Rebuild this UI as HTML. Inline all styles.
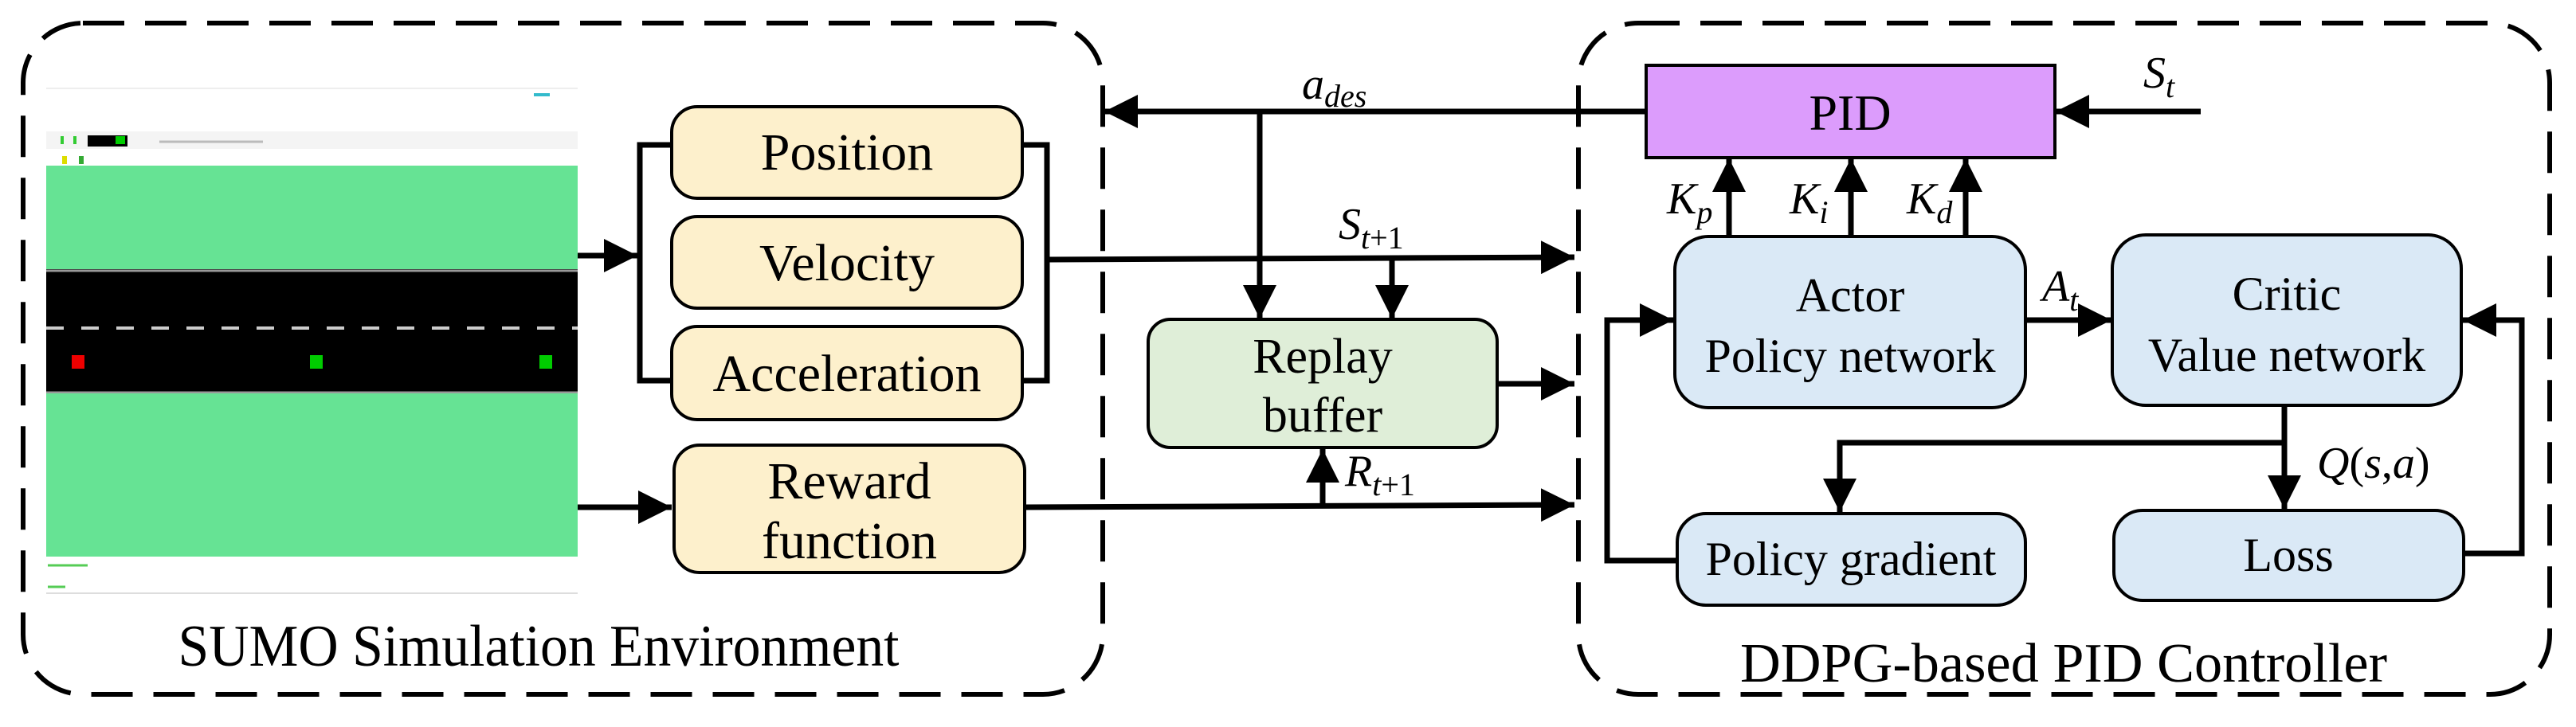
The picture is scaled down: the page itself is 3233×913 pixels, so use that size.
<!DOCTYPE html>
<html><head><meta charset="utf-8"><style>
html,body{margin:0;padding:0;background:#fff}
svg{display:block}
svg text, svg tspan{font-family:"Liberation Serif","DejaVu Serif",serif !important}
</style></head><body>
<svg width="3233" height="913" viewBox="0 0 3233 913" xmlns="http://www.w3.org/2000/svg" style="font-family:'Liberation Serif','DejaVu Serif',serif">
<defs>
<marker id="ah" viewBox="0 0 10 10" refX="10" refY="5" markerWidth="6" markerHeight="6" markerUnits="strokeWidth" orient="auto">
<path d="M0,0 L10,5 L0,10 z" fill="#000"/></marker>
</defs>
<rect x="29" y="29" width="1355" height="843" rx="75" fill="none" stroke="#000" stroke-width="6" stroke-dasharray="52,26"/>
<rect x="1981" y="29" width="1219" height="843" rx="75" fill="none" stroke="#000" stroke-width="6" stroke-dasharray="52,26"/>

<rect x="58" y="111" width="667" height="634" fill="#fff"/>
<line x1="58" y1="111" x2="725" y2="111" stroke="#eee" stroke-width="2"/>
<rect x="58" y="165" width="667" height="22" fill="#f4f4f4"/>
<rect x="110" y="170" width="50" height="14" fill="#000"/>
<rect x="145" y="171" width="12" height="10" fill="#0c0"/>
<line x1="200" y1="178" x2="330" y2="178" stroke="#bbb" stroke-width="3"/>
<rect x="76" y="171" width="4" height="10" fill="#3c3"/>
<rect x="92" y="171" width="4" height="10" fill="#3c3"/>
<rect x="670" y="117" width="20" height="4" fill="#3bc"/>
<rect x="78" y="196" width="6" height="10" fill="#dd0"/>
<rect x="99" y="196" width="6" height="10" fill="#3a3"/>
<rect x="58" y="208" width="667" height="130" fill="#66e394"/>
<rect x="58" y="338" width="667" height="156" fill="#000"/>
<line x1="58" y1="340" x2="725" y2="340" stroke="#999" stroke-width="3"/>
<line x1="58" y1="412" x2="725" y2="412" stroke="#ccc" stroke-width="4" stroke-dasharray="22,22"/>
<line x1="58" y1="493" x2="725" y2="493" stroke="#999" stroke-width="3"/>
<rect x="58" y="494" width="667" height="205" fill="#66e394"/>
<rect x="90" y="446" width="16" height="17" fill="#e00"/>
<rect x="389" y="446" width="16" height="17" fill="#0c0"/>
<rect x="677" y="446" width="16" height="17" fill="#0c0"/>
<line x1="60" y1="710" x2="110" y2="710" stroke="#5c5" stroke-width="3"/>
<line x1="60" y1="737" x2="82" y2="737" stroke="#5c5" stroke-width="3"/>
<line x1="58" y1="745" x2="725" y2="745" stroke="#ddd" stroke-width="2"/>

<g stroke="#000" stroke-width="4" fill="#fdf0cc">
<rect x="843" y="134" width="440" height="115" rx="32"/>
<rect x="843" y="272" width="440" height="115" rx="32"/>
<rect x="843" y="410" width="440" height="117" rx="32"/>
<rect x="846" y="559" width="440" height="160" rx="32"/>
</g>
<g font-size="66" text-anchor="middle">
<text x="1063" y="213">Position</text>
<text x="1063" y="352">Velocity</text>
<text x="1063" y="491">Acceleration</text>
<text x="1066" y="626">Reward</text>
<text x="1066" y="701">function</text>
</g>

<g stroke="#000" stroke-width="7" fill="none">
<polyline points="843,182 803,182 803,478 843,478"/>
<polyline points="1283,182 1314,182 1314,478 1283,478"/>
<line x1="725" y1="321" x2="800" y2="321" marker-end="url(#ah)"/>
<line x1="725" y1="637" x2="843" y2="637" marker-end="url(#ah)"/>
<line x1="1314" y1="326" x2="1976" y2="323" marker-end="url(#ah)"/>
<line x1="1286" y1="637" x2="1976" y2="634" marker-end="url(#ah)"/>
<line x1="2066" y1="140" x2="1386" y2="140" marker-end="url(#ah)"/>
<line x1="1581" y1="140" x2="1581" y2="400" marker-end="url(#ah)"/>
<line x1="1747" y1="323" x2="1747" y2="400" marker-end="url(#ah)"/>
<line x1="1660" y1="634" x2="1660" y2="564" marker-end="url(#ah)"/>
<line x1="1879" y1="482" x2="1976" y2="482" marker-end="url(#ah)"/>
<line x1="2762" y1="140" x2="2580" y2="140" marker-end="url(#ah)"/>
<line x1="2170" y1="297" x2="2170" y2="199" marker-end="url(#ah)"/>
<line x1="2323" y1="297" x2="2323" y2="199" marker-end="url(#ah)"/>
<line x1="2467" y1="297" x2="2467" y2="199" marker-end="url(#ah)"/>
<line x1="2542" y1="402" x2="2650" y2="402" marker-end="url(#ah)"/>
<line x1="2867" y1="509" x2="2867" y2="639" marker-end="url(#ah)"/>
<polyline points="2867,556 2309,556 2309,643" marker-end="url(#ah)"/>
<polyline points="2105,704 2017,704 2017,402 2100,402" marker-end="url(#ah)"/>
<polyline points="3092,695 3165,695 3165,402 3091,402" marker-end="url(#ah)"/>
</g>

<rect x="1441" y="401" width="438" height="161" rx="28" fill="#dfeed8" stroke="#000" stroke-width="4"/>
<g font-size="62" text-anchor="middle">
<text x="1660" y="468">Replay</text>
<text x="1660" y="542">buffer</text>
</g>

<rect x="2066" y="82" width="513" height="116" fill="#dc9cfc" stroke="#000" stroke-width="4"/>
<text x="2322" y="163" font-size="64" text-anchor="middle">PID</text>

<g stroke="#000" stroke-width="4" fill="#dae9f6">
<rect x="2102" y="297" width="440" height="215" rx="42"/>
<rect x="2651" y="295" width="438" height="214" rx="42"/>
<rect x="2105" y="645" width="437" height="115" rx="36"/>
<rect x="2653" y="641" width="439" height="113" rx="36"/>
</g>
<g font-size="60" text-anchor="middle">
<text x="2322" y="391">Actor</text>
<text x="2322" y="467">Policy network</text>
<text x="2870" y="389">Critic</text>
<text x="2870" y="466">Value network</text>
<text x="2323" y="722">Policy gradient</text>
<text x="2872" y="717">Loss</text>
</g>

<g font-size="56" font-style="italic">
<text x="1634" y="124">a<tspan font-size="40" dy="10">des</tspan></text>
<text x="1680" y="300">S<tspan font-size="40" dy="12">t</tspan><tspan font-size="40" font-style="normal">+1</tspan></text>
<text x="1688" y="610">R<tspan font-size="40" dy="12">t</tspan><tspan font-size="40" font-style="normal">+1</tspan></text>
<text x="2690" y="110">S<tspan font-size="40" dy="12">t</tspan></text>
<text x="2092" y="268">K<tspan font-size="40" dy="12">p</tspan></text>
<text x="2246" y="268">K<tspan font-size="40" dy="12">i</tspan></text>
<text x="2393" y="268">K<tspan font-size="40" dy="12">d</tspan></text>
<text x="2563" y="378">A<tspan font-size="40" dy="12">t</tspan></text>
<text x="2908" y="600">Q<tspan font-style="normal">(</tspan>s<tspan font-style="normal">,</tspan>a<tspan font-style="normal">)</tspan></text>
</g>

<text x="676" y="836" font-size="74" text-anchor="middle" textLength="905" lengthAdjust="spacingAndGlyphs">SUMO Simulation Environment</text>
<text x="2590" y="856" font-size="70" text-anchor="middle" textLength="812" lengthAdjust="spacingAndGlyphs">DDPG-based PID Controller</text>
</svg>
</body></html>
